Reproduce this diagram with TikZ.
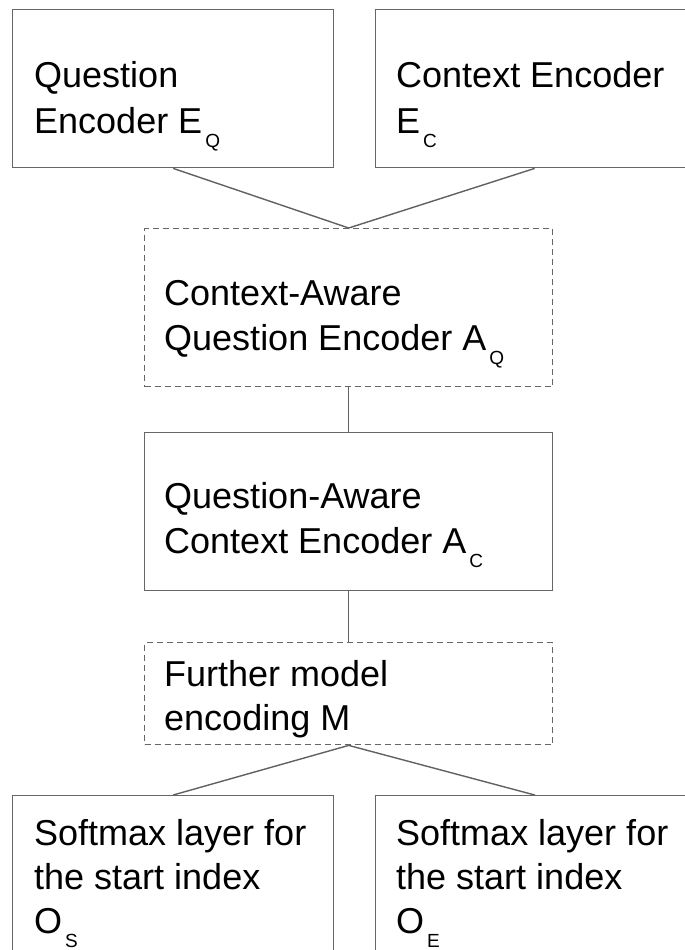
\documentclass[tikz,border=0pt]{standalone}
\usepackage{fontspec}
\setmainfont{Liberation Sans}
\newcommand\subs[1]{\hspace{3pt}\raisebox{-14pt}{\fontsize{19}{19}\selectfont #1}}
\begin{document}
\begin{tikzpicture}[x=1pt,y=-1pt,
  box/.style={draw=black!60, line width=1.4pt, rectangle, inner sep=0pt, anchor=north west},
  dbox/.style={box, dashed, dash pattern=on 6pt off 4pt},
  conn/.style={draw=black!62, line width=1.4pt},
  txt/.style={anchor=base west, inner sep=0pt, font=\fontsize{36}{43}\selectfont}]
\useasboundingbox (0,0) rectangle (685,950);
\fill[white] (0,0) rectangle (685,950);
% boxes
\node[box, minimum width=321pt, minimum height=158pt] (eq) at (12,9) {};
\node[box, minimum width=318pt, minimum height=158pt] (ec) at (375,9) {};
\node[dbox, minimum width=408pt, minimum height=158pt] (aq) at (144,228) {};
\node[box, minimum width=408pt, minimum height=158pt] (ac) at (144,432) {};
\node[dbox, minimum width=408pt, minimum height=102pt] (m) at (144,642) {};
\node[box, minimum width=321pt, minimum height=160pt] (os) at (12,795) {};
\node[box, minimum width=318pt, minimum height=160pt] (oe) at (375,795) {};
% connectors
\draw[conn] (eq.south) -- (aq.north);
\draw[conn] (ec.south) -- (aq.north);
\draw[conn] (aq.south) -- (ac.north);
\draw[conn] (ac.south) -- (m.north);
\draw[conn] (m.south) -- (os.north);
\draw[conn] (m.south) -- (oe.north);
% texts
\node[txt] (t1) at (34,88) {Question};
\node[txt] (t2) at (34,133) {Encoder E\subs{Q}};
\node[txt] (t3) at (396,88) {Context Encoder};
\node[txt] (t4) at (396,133) {E\subs{C}};
\node[txt] (t5) at (164,305) {Context-Aware};
\node[txt] (t6) at (164,350) {Question Encoder A\subs{Q}};
\node[txt] (t7) at (164,508) {Question-Aware};
\node[txt] (t8) at (164,553) {Context Encoder A\subs{C}};
\node[txt] (t9) at (164,686) {Further model};
\node[txt] (t10) at (164,730) {encoding M};
\node[txt] (t11) at (34,845) {Softmax layer for};
\node[txt] (t12) at (34,889) {the start index};
\node[txt] (t13) at (34,933) {O\subs{S}};
\node[txt] (t14) at (396,845) {Softmax layer for};
\node[txt] (t15) at (396,889) {the start index};
\node[txt] (t16) at (396,933) {O\subs{E}};
\end{tikzpicture}
\end{document}
